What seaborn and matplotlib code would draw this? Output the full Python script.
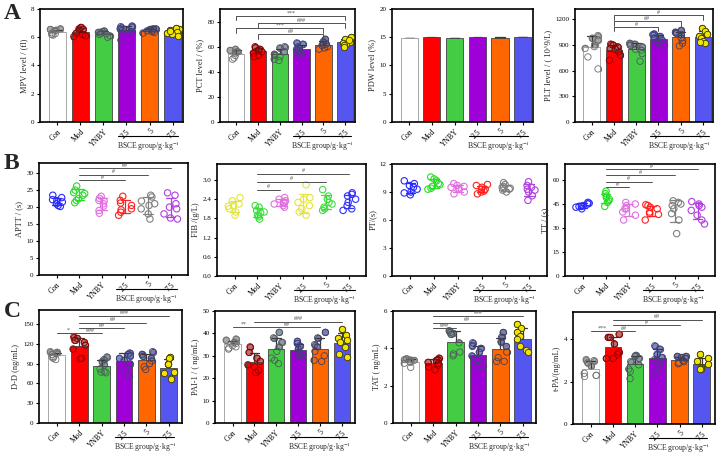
import numpy as np
import pandas as pd
import matplotlib
matplotlib.use("Agg")
import matplotlib.pyplot as plt
from matplotlib.ticker import FormatStrFormatter
from matplotlib.transforms import blended_transform_factory
import seaborn as sns

sns.set_theme(style="ticks")
plt.rcParams['font.family'] = ['Liberation Serif', 'DejaVu Serif']
plt.rcParams['mathtext.fontset'] = 'stix'

groups = ["Con", "Mod", "YNBY", "2.5", "5", "7.5"]

# ---------------- data (per group, individual animals) ----------------
mpv = [[6.5, 6.6, 6.55, 6.45, 6.3, 6.2, 6.15, 6.25],
       [6.6, 6.7, 6.5, 6.55, 6.3, 6.1, 6.05, 6.2],
       [6.4, 6.45, 6.35, 6.2, 6.0, 6.1, 6.3, 6.25],
       [6.7, 6.8, 6.75, 6.6, 6.5, 6.4, 5.8, 6.55],
       [6.6, 6.55, 6.5, 6.45, 6.4, 6.35, 6.3, 6.6],
       [6.6, 6.65, 6.5, 6.4, 6.3, 6.2, 6.1, 6.45]]
pct = [[58, 57, 56, 55, 53, 51, 50, 56],
       [59, 60, 58, 57, 55, 53, 52, 56],
       [60, 59, 56, 54, 52, 50, 49, 53],
       [63, 62, 60, 58, 56, 55, 54, 57],
       [66, 64, 62, 61, 60, 59, 58, 62],
       [68, 66, 64, 63, 62, 61, 60, 65]]
pdw = [[14.9, 14.95, 14.85, 14.9, 14.92, 14.88, 14.9, 14.9],
       [15.0, 15.1, 14.95, 15.05, 14.9, 15.0, 15.05, 14.95],
       [14.85, 14.9, 14.8, 14.85, 14.88, 14.82, 14.86, 14.84],
       [15.0, 15.05, 14.95, 15.1, 14.95, 15.0, 14.98, 15.02],
       [14.95, 15.0, 14.9, 14.97, 14.93, 14.95, 14.96, 14.94],
       [15.0, 15.05, 14.95, 15.02, 14.98, 15.0, 15.03, 14.97]]
plt_ = [[1010, 980, 960, 900, 880, 760, 620, 860],
        [910, 900, 880, 860, 820, 780, 720, 850],
        [920, 910, 900, 880, 850, 800, 710, 840],
        [1030, 1020, 1000, 980, 960, 940, 920, 900],
        [1070, 1050, 1040, 1020, 980, 920, 890, 950],
        [1100, 1060, 1030, 1000, 980, 950, 920, 940]]
aptt = [[23.5, 22.8, 22.2, 21.5, 21.0, 20.5, 20.2, 21.9],
        [26.2, 25.0, 24.3, 23.5, 22.5, 21.3, 24.0, 22.0],
        [23.2, 22.6, 21.8, 21.0, 20.3, 19.0, 18.2, 22.0],
        [23.2, 22.0, 21.2, 20.5, 19.5, 18.5, 17.6, 19.2],
        [23.5, 23.0, 21.8, 20.5, 19.5, 18.0, 16.5, 21.0],
        [24.2, 23.5, 21.0, 19.5, 18.0, 16.8, 16.5, 20.0]]
fib = [[2.45, 2.35, 2.25, 2.18, 2.1, 2.0, 1.9, 2.2],
       [2.2, 2.15, 2.05, 1.98, 1.9, 1.85, 1.78, 2.0],
       [2.45, 2.4, 2.35, 2.3, 2.25, 2.2, 2.15, 2.3],
       [2.85, 2.4, 2.3, 2.2, 2.1, 2.0, 1.9, 2.45],
       [2.7, 2.5, 2.4, 2.3, 2.25, 2.15, 2.05, 2.1],
       [2.6, 2.55, 2.5, 2.4, 2.3, 2.2, 2.1, 2.05]]
pt = [[10.2, 9.9, 9.7, 9.5, 9.3, 9.0, 8.7, 8.9],
      [10.6, 10.4, 10.2, 9.9, 9.6, 9.3, 9.4, 9.8],
      [9.9, 9.7, 9.6, 9.5, 9.3, 9.0, 8.8, 9.4],
      [9.8, 9.7, 9.5, 9.3, 9.1, 9.0, 8.8, 9.3],
      [10.0, 9.8, 9.6, 9.4, 9.3, 9.2, 9.0, 9.5],
      [10.1, 9.7, 9.5, 9.3, 9.0, 8.6, 8.1, 9.2]]
tt = [[46, 45.5, 45, 44, 43.5, 43, 42, 43.5],
      [53, 51.5, 50, 49, 48, 47, 46, 43.5],
      [46, 45, 44, 42, 40, 38, 35, 42],
      [44.5, 44, 43, 42, 40, 38.5, 35, 39],
      [47, 46, 45, 44, 42, 39, 35, 26.5],
      [46.5, 44, 43, 41, 38, 35, 32.5, 45]]
dd = [[108, 107, 105, 104, 100, 98, 96, 100],
      [130, 128, 125, 122, 118, 112, 98, 97],
      [100, 96, 93, 88, 82, 78, 76, 77],
      [106, 104, 102, 98, 95, 90, 82, 71],
      [108, 104, 101, 98, 94, 90, 85, 81],
      [100, 99, 90, 89, 77, 76, 68, 67]]
pai = [[37.5, 37, 36, 35.5, 34.5, 33.5, 33, 34],
       [34, 31.5, 29, 27.5, 26, 25, 23.5, 22.5],
       [40.5, 38, 36, 34, 32, 29, 28, 26.5],
       [36.5, 35.5, 34.5, 33, 31, 30, 29.5, 31.5],
       [40.5, 38, 35, 34, 32, 30, 28, 27.5],
       [42, 39.5, 38, 37, 36, 34, 31, 29.5]]
tat = [[3.45, 3.4, 3.38, 3.35, 3.3, 3.25, 3.2, 2.98],
       [3.48, 3.4, 3.35, 3.25, 3.2, 3.1, 3.0, 2.85],
       [4.95, 4.85, 4.8, 4.75, 4.3, 3.8, 3.7, 3.6],
       [4.3, 4.15, 4.0, 3.8, 3.6, 3.4, 3.0, 3.05],
       [4.85, 4.6, 4.35, 4.1, 3.8, 3.5, 3.3, 3.3],
       [5.3, 5.1, 4.85, 4.65, 4.5, 4.1, 3.9, 3.8]]
tpa = [[3.05, 3.0, 2.9, 2.75, 2.4, 2.3, 2.3, 2.25],
       [4.25, 4.1, 4.1, 3.8, 3.4, 3.3, 3.1, 3.1],
       [3.25, 3.2, 3.1, 2.95, 2.8, 2.6, 2.5, 2.15],
       [3.7, 3.55, 3.3, 3.15, 3.05, 2.95, 2.75, 2.4],
       [3.2, 3.2, 3.15, 3.1, 3.0, 2.95, 2.85, 2.9],
       [3.3, 3.1, 3.0, 2.85, 2.7, 2.65, 2.6, 2.6]]

# ---------------- colours ----------------
fill_cols = ["#ffffff", "#ff0000", "#44cc44", "#a000d8", "#ff6600", "#5555f0"]
pt_fill = ["#a8a8a8", "#b87474", "#9098a8", "#7c8cc0", "#7c7cb0", "#f2e400"]
pt_edge = ["#707070", "#8b0000", "#505860", "#404080", "#404060", "#3a3a00"]
open_cols = ["#2828ff", "#28dd28", "#e070e0", "#ff2020", "#808080", "#b040e0"]
fib_cols = ["#e4e440", "#40dd40", "#e070e0", "#e4e440", "#40dd40", "#3030ff"]

W, H = 719, 455
fig = plt.figure(figsize=(W / 100, H / 100), dpi=100)


def box(l, t, r, b):
    return [l / W, 1 - b / H, (r - l) / W, (b - t) / H]


def make_df(vals):
    return pd.DataFrame({"g": [g for g, v in zip(groups, vals) for _ in v],
                         "v": [x for v in vals for x in v]})


def strip(ax, df, seed, lw):
    np.random.seed(seed)  # same jitter for both point layers
    n = len(ax.collections)
    sns.stripplot(data=df, x="g", y="v", order=groups, size=4.6, jitter=0.3,
                  color="k", linewidth=lw, ax=ax)
    return ax.collections[n:]


def panel(pos, vals, ylabel, ylim, yticks, xlim, style, cols, seed, brackets=(),
          show_pts=True, fmt=None, line_y=-0.125, text_y=-0.215):
    ax = fig.add_axes(box(*pos))
    df = make_df(vals)
    pal = dict(zip(groups, cols))
    n0 = len(ax.lines)
    filled = style == "filled"
    sns.barplot(data=df, x="g", y="v", hue="g", order=groups, hue_order=groups,
                palette=pal, errorbar="sd", capsize=0.4, width=0.75,
                saturation=1, fill=filled, legend=False, ax=ax,
                edgecolor="#444444" if filled else None,
                linewidth=0.6 if filled else 1.1,
                err_kws={"color": "#383838", "linewidth": 0.9})
    err = ax.lines[n0:]
    for p in ax.patches:
        p.set_zorder(2)
    if filled:
        ax.patches[0].set_edgecolor("#9a9a9a")
        for l in err:
            l.set_zorder(1.5)
    else:
        for l, c in zip(err, cols):
            l.set_color(c)
            l.set_zorder(2.5)
    if show_pts:
        if filled:
            for c, fc, ec in zip(strip(ax, df, seed, 0.6), pt_fill, pt_edge):
                c.set_facecolor(fc)
                c.set_edgecolor(ec)
                c.set_zorder(1)
            for k, c in enumerate(strip(ax, df, seed, 0.6)):
                c.set_facecolor(pt_fill[k] if groups[k] == "7.5" else "none")
                c.set_edgecolor(pt_edge[k])
                c.set_zorder(3)
        else:
            for c, ec in zip(strip(ax, df, seed, 0.8), cols):
                c.set_facecolor("none")
                c.set_edgecolor(ec)
                c.set_zorder(3)
    ax.set_xlim(*xlim)
    ax.set_ylim(*ylim)
    ax.set_yticks(yticks)
    if fmt:
        ax.yaxis.set_major_formatter(FormatStrFormatter(fmt))
    ax.set_xlabel("")
    ax.set_ylabel(ylabel, fontsize=6, labelpad=2)
    ax.set_xticks(range(6))
    ax.set_xticklabels(groups, rotation=45, ha="right", rotation_mode="anchor",
                       fontsize=5.5)
    ax.tick_params(axis="both", length=2.5, width=0.8, pad=1.5, colors="black")
    ax.tick_params(axis="y", labelsize=5)
    for s in ax.spines.values():
        s.set_linewidth(1.2)
        s.set_color("black")
    tr = blended_transform_factory(ax.transData, ax.transAxes)
    ax.plot([2.62, 5.25], [line_y, line_y], transform=tr, clip_on=False,
            color="black", lw=0.8)
    ax.text(3.95, text_y, "BSCE group/g·kg$^{-1}$", transform=tr, ha="center",
            va="center", fontsize=5.5)
    span = ylim[1] - ylim[0]
    for (i, j, y, txt, legs) in brackets:
        if legs:
            ax.plot([i, i, j, j], [y - legs * span, y, y, y - legs * span],
                    color="#505050", lw=0.7, zorder=4)
        else:
            ax.plot([i, j], [y, y], color="#505050", lw=0.7, zorder=4)
        ax.text((i + j) / 2, y + 0.004 * span, txt, ha="center", va="bottom",
                fontsize=4.3, color="#505050", zorder=4)
    return ax


xa = (-0.75, 5.45)
xb = (-0.77, 5.75)
xc = (-0.8, 5.6)

# Row A
panel((40, 9, 183, 122), mpv, "MPV level / (fl)", (0, 8), [0, 2, 4, 6, 8], xa,
      "filled", fill_cols, 1)
panel((220, 9, 355, 122), pct, "PCT level / (%)", (0, 90), [0, 20, 40, 60, 80],
      xa, "filled", fill_cols, 2,
      brackets=[(0, 5, 84.5, "***", 0.04), (1, 5, 78.5, "###", 0.04),
                (0, 4, 74.5, "***", 0.04), (1, 4, 70.0, "##", 0.04)])
panel((392, 9, 533, 122), pdw, "PDW level (%)", (0, 20), [0, 5, 10, 15, 20],
      xa, "filled", fill_cols, 3, show_pts=False)
panel((575, 9, 713, 122), plt_, "PLT level / ( 10^9/L)", (0, 1320),
      [0, 300, 600, 900, 1200], xa, "filled", fill_cols, 4,
      brackets=[(1, 5, 1250, "#", 0.04), (1, 4, 1176, "##", 0.04),
                (1, 3, 1110, "#", 0.04)])

# Row B
panel((39, 163, 188, 275), aptt, "APTT / (s)", (0, 33), [0, 5, 10, 15, 20, 25, 30],
      xb, "open", open_cols, 5,
      brackets=[(1, 5, 31.4, "##", 0), (1, 4, 29.6, "#", 0), (1, 3, 27.9, "#", 0)])
panel((217, 164, 366, 276), fib, "FIB /(g/L)", (0, 3.5),
      [0, 0.6, 1.2, 1.8, 2.4, 3.0], xb, "open", fib_cols, 6, fmt="%.1f",
      brackets=[(1, 5, 3.2, "#", 0), (1, 4, 2.95, "#", 0), (1, 2, 2.69, "#", 0)])
panel((392, 164, 547, 276), pt, "PT/(s)", (0, 12), [0, 3, 6, 9, 12], xb,
      "open", open_cols, 7)
panel((565, 164, 715, 276), tt, "TT / (s)", (0, 70), [0, 15, 30, 45, 60], xb,
      "open", open_cols, 8,
      brackets=[(1, 5, 66.7, "#", 0), (1, 4, 63.1, "#", 0), (1, 3, 59.0, "#", 0),
                (1, 2, 55.4, "#", 0)])

# Row C
panel((39, 310, 182, 423), dd, "D-D (ng/mL)", (0, 171),
      [0, 30, 60, 90, 120, 150], xc, "filled", fill_cols, 9,
      brackets=[(1, 5, 162, "###", 0), (1, 4, 152, "##", 0), (1, 3, 143.5, "##", 0),
                (1, 2, 136, "###", 0), (0, 1, 136, "*", 0)])
panel((215, 311, 355, 423), pai, "PAI-1 / ( ng/mL)", (0, 50),
      [0, 10, 20, 30, 40, 50], xc, "filled", fill_cols, 10,
      brackets=[(1, 5, 45.2, "###", 0), (1, 4, 42.7, "##", 0), (0, 1, 42.7, "**", 0)])
panel((393, 311, 536, 423), tat, "TAT ( ng/mL)", (0, 6), [0, 2, 4, 6], xc,
      "filled", fill_cols, 11,
      brackets=[(1, 5, 5.74, "###", 0), (1, 4, 5.38, "##", 0), (1, 2, 5.08, "###", 0)])
panel((573, 312, 715, 424), tpa, "t-PA/(ng/mL)", (0, 5.3), [0, 2, 4], xc,
      "filled", fill_cols, 12,
      brackets=[(1, 5, 4.94, "##", 0), (1, 4, 4.67, "#", 0), (1, 2, 4.4, "##", 0),
                (0, 1, 4.4, "***", 0)])

for letter, ytop in [("A", 3), ("B", 153), ("C", 301)]:
    fig.text(4 / W, 1 - ytop / H, letter, fontsize=17, fontweight="bold",
             ha="left", va="top")

fig.savefig("out.png", dpi=100)
